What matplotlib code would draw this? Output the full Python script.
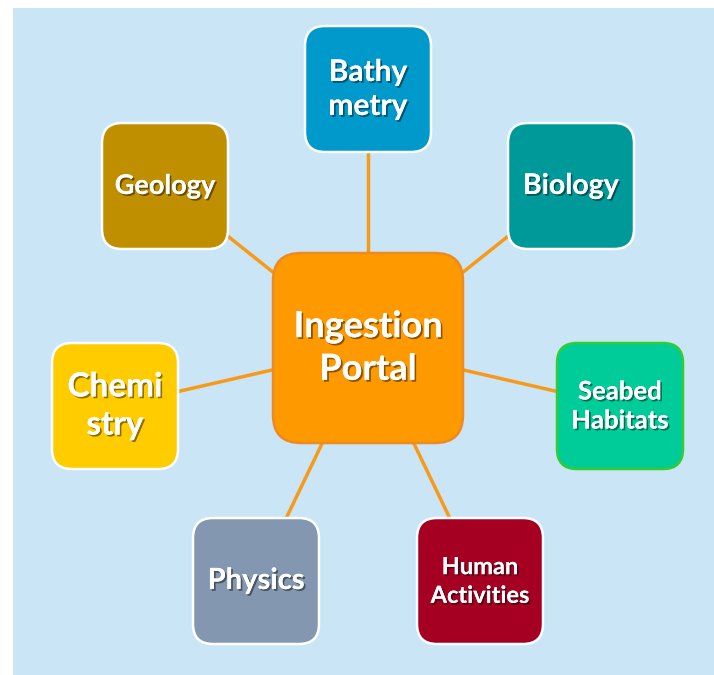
import matplotlib
matplotlib.use("Agg")
import matplotlib.pyplot as plt
from matplotlib.patches import FancyBboxPatch, Rectangle
import matplotlib.patheffects as pe

# ---- data ----
center_label = "Ingestion\nPortal"
center_xy = (368, 348)
center_size = 190
center_color = "#FF9900"
center_edge = "#EE8A20"

labels = ["Bathy\nmetry", "Biology", "Seabed\nHabitats", "Human\nActivities",
          "Physics", "Chemi\nstry", "Geology"]
node_x = [368, 571, 620, 480, 256, 115, 165]
node_y = [89, 186, 406, 581, 581, 406, 186]
colors = ["#0099CC", "#009999", "#00CC99", "#A50021", "#8497B0", "#FFCC00", "#BF8F00"]
edges = ["white", "white", "#33CC33", "white", "white", "white", "white"]
font_sizes = [21.5, 20.5, 18.5, 17, 21, 24, 19.5]
line_sp = [1.26, 1.1, 1.25, 1.3, 1.1, 1.38, 1.1]

W, H = 714, 675
fig = plt.figure(figsize=(W / 100, H / 100), dpi=100)
ax = fig.add_axes([0, 0, 1, 1])
ax.set_xlim(0, W)
ax.set_ylim(H, 0)
ax.axis("off")
fig.patch.set_facecolor("white")

ax.add_patch(Rectangle((13, 8), W - 13, H - 8, facecolor="#C9E5F6", edgecolor="none", zorder=0))

shadow = [pe.withSimplePatchShadow(offset=(1.3, -1.3), shadow_rgbFace="black", alpha=0.45), pe.Normal()]
font = "Lato"

# connectors
for x, y in zip(node_x, node_y):
    ax.plot([center_xy[0], x], [center_xy[1], y], color="#F79A1A", lw=2.5, zorder=1,
            solid_capstyle="butt")

box = 126
for lab, x, y, c, ec, fs, ls in zip(labels, node_x, node_y, colors, edges, font_sizes, line_sp):
    ax.add_patch(FancyBboxPatch((x - box / 2, y - box / 2), box, box,
                                boxstyle="round,pad=0,rounding_size=20",
                                facecolor=c, edgecolor=ec, lw=1.8, zorder=2))
    ax.text(x, y, lab, ha="center", va="center", fontsize=fs, fontweight="bold",
            color="white", family=font, linespacing=ls, zorder=3, path_effects=shadow)

cx, cy = center_xy
ax.add_patch(FancyBboxPatch((cx - center_size / 2, cy - center_size / 2), center_size, center_size,
                            boxstyle="round,pad=0,rounding_size=28",
                            facecolor=center_color, edgecolor=center_edge, lw=1.8, zorder=2))
ax.text(cx, cy, center_label, ha="center", va="center", fontsize=26, fontweight="bold",
        color="white", family=font, linespacing=1.36, zorder=3, path_effects=shadow)

fig.savefig("out.png", dpi=100, facecolor="white")
